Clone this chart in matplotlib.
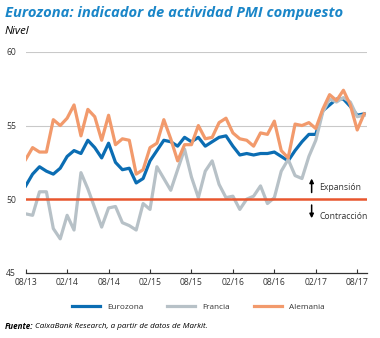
import matplotlib.pyplot as plt
import numpy as np

plt.rcParams['font.family'] = ['Open Sans', 'DejaVu Sans']

# PMI compuesto mensual (jul-2013 a ago-2017)
eurozona = [50.9, 51.7, 52.2, 51.9, 51.7, 52.1, 52.9, 53.3, 53.1, 54.0,
            53.5, 52.8, 53.8, 52.5, 52.0, 52.1, 51.1, 51.4, 52.6, 53.3,
            54.0, 53.9, 53.6, 54.2, 53.9, 54.2, 53.6, 53.9, 54.2, 54.3,
            53.6, 53.0, 53.1, 53.0, 53.1, 53.1, 53.2, 52.9, 52.6, 53.3,
            53.9, 54.4, 54.4, 56.0, 56.4, 56.8, 56.8, 56.3, 55.7, 55.8]
francia = [49.0, 48.9, 50.5, 50.5, 48.0, 47.3, 48.9, 47.9, 51.8, 50.7,
           49.4, 48.1, 49.4, 49.5, 48.4, 48.2, 47.9, 49.7, 49.3, 52.2,
           51.4, 50.6, 52.0, 53.4, 51.5, 50.1, 51.9, 52.6, 51.0, 50.1,
           50.2, 49.3, 50.0, 50.2, 50.9, 49.7, 50.1, 51.9, 52.7, 51.6,
           51.4, 52.9, 54.0, 55.9, 56.8, 56.6, 56.9, 56.6, 55.6, 55.7]
alemania = [52.7, 53.5, 53.2, 53.2, 55.4, 55.0, 55.5, 56.4, 54.3, 56.1,
            55.6, 54.0, 55.7, 53.7, 54.1, 54.0, 51.7, 52.0, 53.5, 53.8,
            55.4, 54.1, 52.6, 53.7, 53.7, 55.0, 54.1, 54.2, 55.2, 55.5,
            54.5, 54.1, 54.0, 53.6, 54.5, 54.4, 55.3, 53.3, 52.8, 55.1,
            55.0, 55.2, 54.8, 56.1, 57.1, 56.7, 57.4, 56.4, 54.7, 55.8]
xlabels = ['08/13', '02/14', '08/14', '02/15', '08/15',
           '02/16', '08/16', '02/17', '08/17']
yticks = [45, 50, 55, 60]

AZUL = '#0b6db3'
GRIS = '#b7c1c7'
NARANJA = '#f29a6c'
ROJO = '#e8562e'
TEXTO = '#333333'

fig = plt.figure(figsize=(3.8, 3.38), dpi=100)
ax = fig.add_axes([0.0676, 0.1932, 0.897, 0.653])

x = np.arange(len(eurozona))

for y in (55, 60):
    ax.axhline(y, color='#c9c9c9', lw=0.8, zorder=0)

ax.plot(x, eurozona, color=AZUL, lw=2.3, label='Eurozona', zorder=2)
ax.plot(x, francia, color=GRIS, lw=2.3, label='Francia', zorder=3)
ax.axhline(50, color=ROJO, lw=1.8, zorder=3.5)
ax.plot(x, alemania, color=NARANJA, lw=2.3, label='Alemania', zorder=4)

ax.set_xlim(0, 49.35)
ax.set_ylim(45, 60)
ax.set_xticks(range(0, 49, 6))
ax.set_xticklabels(xlabels)
ax.set_yticks(yticks)
ax.tick_params(axis='x', direction='in', length=3, width=0.8, color=TEXTO,
               labelsize=6.2, labelcolor=TEXTO, pad=4)
ax.tick_params(axis='y', length=0, labelsize=6.2, labelcolor=TEXTO, pad=7)
for s in ('top', 'right', 'left'):
    ax.spines[s].set_visible(False)
ax.spines['bottom'].set_color(TEXTO)
ax.spines['bottom'].set_linewidth(0.9)

# flechas de expansión / contracción
ax.annotate('', xy=(41.4, 51.4), xytext=(41.4, 50.45),
            arrowprops=dict(arrowstyle='-|>', color='black', lw=1.1,
                            mutation_scale=6, shrinkA=0, shrinkB=0))
ax.annotate('', xy=(41.4, 48.7), xytext=(41.4, 49.6),
            arrowprops=dict(arrowstyle='-|>', color='black', lw=1.1,
                            mutation_scale=6, shrinkA=0, shrinkB=0))
ax.text(42.5, 50.8, 'Expansión', fontsize=6.2, color=TEXTO, va='center')
ax.text(42.5, 48.85, 'Contracción', fontsize=6.2, color=TEXTO, va='center')

fig.text(0.013, 0.9615, 'Eurozona: indicador de actividad PMI compuesto',
         fontsize=10.6, fontweight='bold', style='italic', color='#1a86c8',
         va='center')
fig.text(0.013, 0.908, 'Nivel', fontsize=8.2, style='italic', color='black',
         va='center')

fig.legend(loc='center', bbox_to_anchor=(0.522, 0.092), ncol=3,
           frameon=False, fontsize=5.9, handlelength=3.4, handletextpad=0.9,
           columnspacing=2.9, labelcolor=TEXTO)

# fuente: parte en negrita y resto en cursiva
r = fig.canvas.get_renderer()
t1 = fig.text(0.013, 0.0355, 'Fuente:', fontsize=5.8, fontweight='bold',
              style='italic', va='center')
bb = t1.get_window_extent(renderer=r)
fig.text(bb.x1 / fig.bbox.width + 0.004, 0.0355,
         'CaixaBank Research, a partir de datos de Markit.', fontsize=5.8,
         style='italic', va='center')

fig.savefig('out.png', dpi=100)
